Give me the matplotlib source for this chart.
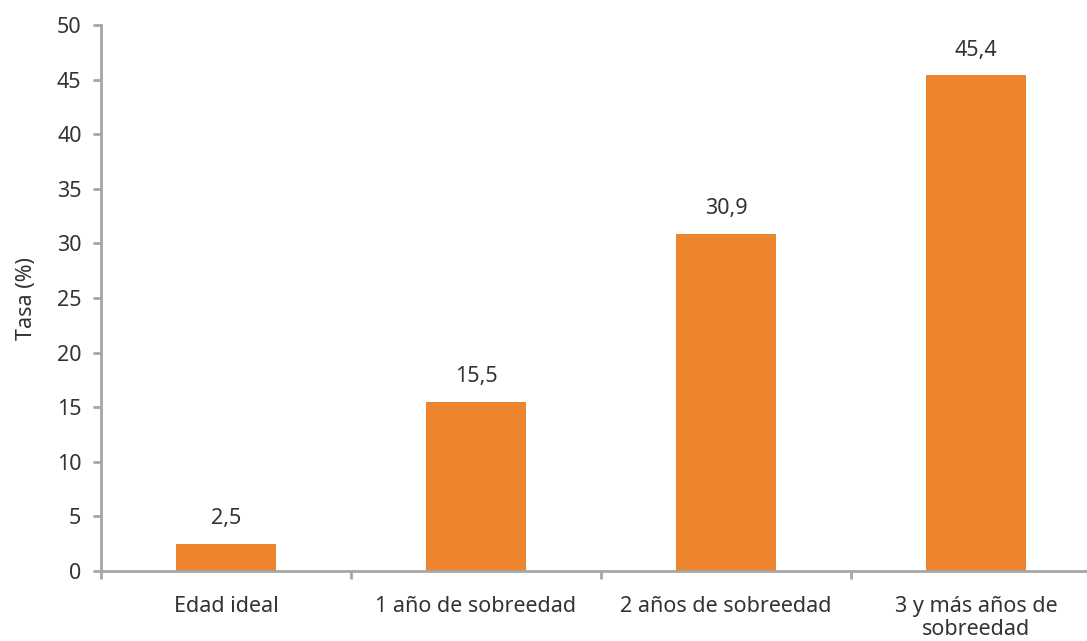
import matplotlib
matplotlib.use("Agg")
import matplotlib.pyplot as plt

categories = ["Edad ideal", "1 año de sobreedad", "2 años de sobreedad", "3 y más años de\nsobreedad"]
values = [2.5, 15.5, 30.9, 45.4]
value_labels = ["2,5", "15,5", "30,9", "45,4"]
yticks = [0, 5, 10, 15, 20, 25, 30, 35, 40, 45, 50]

plt.rcParams['font.family'] = ['Noto Sans', 'DejaVu Sans']
W, H = 1087, 641
fig = plt.figure(figsize=(W/100, H/100), dpi=100)
ax = fig.add_axes([101/W, (H-571)/H, 1000/W, 546/H])

gray = "#a6a6a6"
txt = "#333333"
fs = 15.5
x = list(range(len(categories)))
ax.bar(x, values, width=0.4, color="#ed852e", zorder=2)
ax.set_xlim(-0.5, 3.5)
ax.set_ylim(0, 50)
ax.set_yticks(yticks)
ax.set_yticklabels([str(t) for t in yticks], fontsize=fs, color=txt)
ax.set_xticks([i - 0.5 for i in range(len(categories) + 1)])
ax.set_xticklabels([])
ax.set_xticks(x, minor=True)
ax.set_xticklabels(categories, minor=True, fontsize=fs, color=txt, linespacing=1.15)
ax.tick_params(axis='x', which='minor', length=0, pad=18)
ax.tick_params(axis='x', which='major', length=6, width=2, color=gray, direction='out')
ax.tick_params(axis='y', length=6, width=2, color=gray, direction='out', pad=8)
for s in ['top', 'right']:
    ax.spines[s].set_visible(False)
for s in ['left', 'bottom']:
    ax.spines[s].set_color(gray)
    ax.spines[s].set_linewidth(2)
ax.set_ylabel("Tasa (%)", fontsize=fs, color=txt, labelpad=14)

for xi, v, lab in zip(x, values, value_labels):
    ax.annotate(lab, (xi, v), xytext=(0, 18), textcoords='offset points',
                ha='center', va='center', fontsize=fs, color=txt)

fig.savefig("out.png", dpi=100)
